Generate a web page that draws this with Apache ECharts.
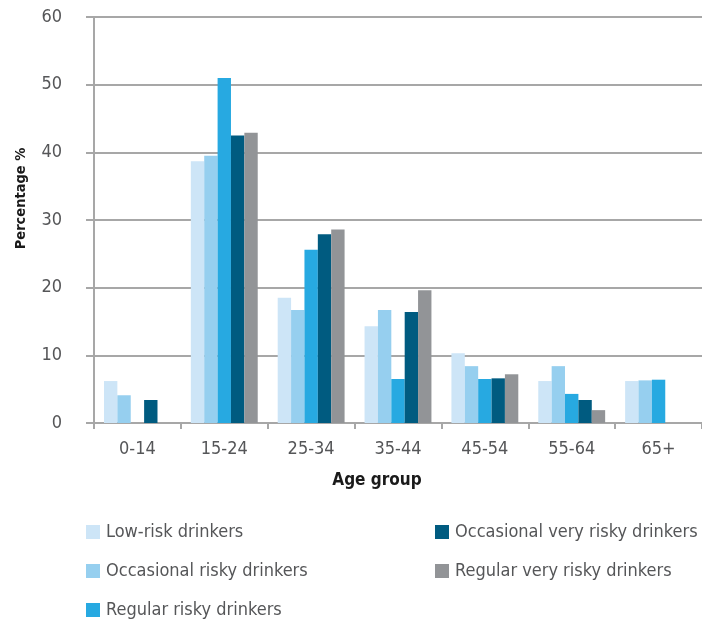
<!DOCTYPE html>
<html>
<head>
<meta charset="utf-8">
<script src="https://cdn.jsdelivr.net/npm/echarts@6/dist/echarts.min.js"></script>
<style>
  html, body { margin: 0; padding: 0; background: #fff; }
  #chart { width: 702px; height: 620px; }
</style>
</head>
<body>
<div id="chart"></div>
<script>
// Age groups along the x axis
var ageGroups = ['0-14', '15-24', '25-34', '35-44', '45-54', '55-64', '65+'];

// Share of each drinker type per age group (%)
var lowRisk = [6.2, 38.7, 18.5, 14.3, 10.3, 6.2, 6.2];
var occasionalRisky = [4.1, 39.5, 16.7, 16.7, 8.4, 8.4, 6.3];
var regularRisky = [0, 51.0, 25.6, 6.5, 6.5, 4.3, 6.4];
var occasionalVeryRisky = [3.4, 42.5, 27.9, 16.4, 6.6, 3.4, 0];
var regularVeryRisky = [0, 42.9, 28.6, 19.6, 7.2, 1.9, 0];

var seriesNames = [
  'Low-risk drinkers',
  'Occasional risky drinkers',
  'Regular risky drinkers',
  'Occasional very risky drinkers',
  'Regular very risky drinkers'
];
var seriesValues = [lowRisk, occasionalRisky, regularRisky, occasionalVeryRisky, regularVeryRisky];
var seriesColors = ['#cde5f7', '#96cfef', '#27a9e1', '#005b80', '#929497'];

// Legend slots: two columns, filled top to bottom
var legendSlots = [
  { left: 86, top: 523 },
  { left: 86, top: 562 },
  { left: 86, top: 601 },
  { left: 435, top: 523 },
  { left: 435, top: 562 }
];

var textFont = '"DejaVu Sans Condensed", "DejaVu Sans", sans-serif';
var gridColor = '#a7a7a7';
var textColor = '#555658';

var chart = echarts.init(document.getElementById('chart'), null, { renderer: 'canvas' });

chart.setOption({
  animation: false,
  textStyle: { fontFamily: textFont },
  grid: { left: 94, right: 0, top: 17, bottom: 197, containLabel: false },
  legend: seriesNames.map(function (name, i) {
    return {
      left: legendSlots[i].left,
      top: legendSlots[i].top,
      padding: 0,
      itemWidth: 14,
      itemHeight: 14,
      icon: 'rect',
      selectedMode: false,
      data: [name],
      textStyle: {
        fontFamily: textFont, fontSize: 18, color: textColor,
        padding: [0, 0, 0, 1]
      }
    };
  }),
  xAxis: {
    type: 'category',
    data: ageGroups,
    name: 'Age group',
    nameLocation: 'middle',
    nameGap: 49,
    nameTextStyle: {
      fontFamily: textFont, fontWeight: 'bold', fontSize: 17, color: '#1a1a1a',
      padding: [0, 42, 0, 0]
    },
    axisLine: { lineStyle: { color: gridColor, width: 2 } },
    axisTick: { show: true, length: 6, lineStyle: { color: gridColor, width: 2 } },
    axisLabel: { margin: 17, fontSize: 18, color: textColor, fontFamily: textFont }
  },
  yAxis: {
    type: 'value',
    min: 0,
    max: 60,
    interval: 10,
    name: 'Percentage %',
    nameLocation: 'middle',
    nameGap: 65,
    nameTextStyle: {
      fontFamily: textFont, fontWeight: 'bold', fontSize: 14.5, color: '#1a1a1a',
      padding: [0, 0, 0, 43]
    },
    axisLine: { show: true, lineStyle: { color: gridColor, width: 2 } },
    axisTick: { show: true, length: 8, lineStyle: { color: gridColor, width: 2 } },
    axisLabel: { margin: 32, fontSize: 18, color: textColor, fontFamily: textFont },
    splitLine: { show: true, lineStyle: { color: gridColor, width: 2 } }
  },
  series: seriesNames.map(function (name, i) {
    return {
      name: name,
      type: 'bar',
      data: seriesValues[i],
      barGap: '0%',
      barCategoryGap: '23%',
      itemStyle: { color: seriesColors[i] }
    };
  })
});
</script>
</body>
</html>
